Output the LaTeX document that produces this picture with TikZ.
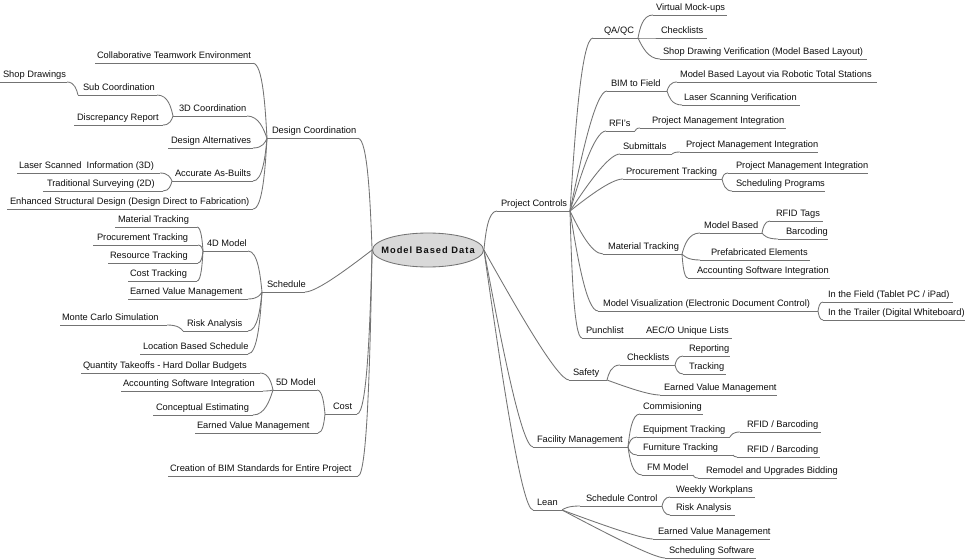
\documentclass[tikz,border=0pt]{standalone}
\usepackage{fontspec}
\setmainfont{Liberation Sans}
\usetikzlibrary{shapes.geometric,calc}
\definecolor{lnc}{RGB}{115,115,115}
\definecolor{txc}{RGB}{15,15,15}
\definecolor{rootfill}{RGB}{217,217,217}
\tikzset{
  mmtopic/.style={anchor=south west, inner sep=0pt, outer sep=0pt, text height=7pt, text depth=4.3pt, font=\fontsize{9.3}{11}\selectfont, text=txc},
  mmline/.style={draw=lnc, line width=0.85pt},
  mmroot/.style={ellipse, draw=lnc, line width=0.85pt, fill=rootfill, minimum width=111pt, minimum height=34pt, inner sep=0pt, text=txc, font=\fontsize{9.3}{11}\selectfont\bfseries\addfontfeatures{LetterSpace=11}}
}
\newcommand\mmn[6]{%
  \node[mmtopic] (#1) at (#2,#4) {\makebox[\dimexpr #3pt-#2pt\relax][l]{\hspace*{\dimexpr #5pt-#2pt\relax}#6}};
  \draw[mmline] (#1.south west) -- (#1.south east);}
\newcommand\cnx[2]{\draw[mmline] let \p1=(#1), \p2=(#2), \n1={((\x2-\x1)>0) ? min(12,0.7*(\x2-\x1)) : -min(12,0.7*(\x1-\x2))} in (\p1) .. controls ({\x1+0.4*(\x2-\n1-\x1)},{\y1+0.4*(\y2-\y1)}) and ({\x2-\n1},\y2) .. (\p2);}
\begin{document}
\begin{tikzpicture}[x=1pt,y=-1pt]
\fill[white] (0,0) rectangle (967,559);
\useasboundingbox (0,0) rectangle (967,559);
% ---------- left side ----------
\mmn{collab}{95}{253}{63.3}{97}{Collaborative Teamwork Environment}
\mmn{shopdr}{0}{67}{82}{3}{Shop Drawings}
\mmn{subc}{78}{157}{95}{83}{Sub Coordination}
\mmn{tdc}{173}{247}{116}{179}{3D Coordination}
\mmn{discr}{74}{163}{125}{77}{Discrepancy Report}
\mmn{desalt}{168}{253}{148}{171}{Design Alternatives}
\mmn{laserthree}{17}{160}{173}{19}{Laser Scanned~ Information (3D)}
\mmn{tradtwo}{43}{163}{191}{47}{Traditional Surveying (2D)}
\mmn{aab}{172}{253}{181}{175}{Accurate As-Builts}
\mmn{enh}{7}{253}{209}{10}{Enhanced Structural Design (Design Direct to Fabrication)}
\mmn{dc}{267}{358}{138.3}{272}{Design Coordination}
\mmn{matone}{115}{197}{227}{118}{Material Tracking}
\mmn{procone}{93}{198}{245}{97}{Procurement Tracking}
\mmn{res}{108}{198}{263}{110}{Resource Tracking}
\mmn{costt}{128}{197}{281}{130}{Cost Tracking}
\mmn{fourd}{203}{248}{251}{207}{4D Model}
\mmn{evmone}{128}{248}{299}{130}{Earned Value Management}
\mmn{monte}{60}{167}{325}{62}{Monte Carlo Simulation}
\mmn{riskone}{183}{248}{331}{187}{Risk Analysis}
\mmn{loc}{140}{248}{354}{143}{Location Based Schedule}
\mmn{sched}{262}{305}{292}{267}{Schedule}
\mmn{qto}{81}{260}{373}{83}{Quantity Takeoffs - Hard Dollar Budgets}
\mmn{asione}{121}{263}{391}{123}{Accounting Software Integration}
\mmn{conc}{153}{253}{415}{156}{Conceptual Estimating}
\mmn{fived}{273}{317}{390}{276}{5D Model}
\mmn{evmtwo}{195}{318}{433}{197}{Earned Value Management}
\mmn{cost}{325}{357}{414}{333}{Cost}
\mmn{bim}{168}{358}{476}{170}{Creation of BIM Standards for Entire Project}
% ---------- right side ----------
\mmn{pc}{497}{570}{211}{501}{Project Controls}
\mmn{qaqc}{593}{638}{38}{604}{QA/QC}
\mmn{vmock}{653}{727}{15}{656}{Virtual Mock-ups}
\mmn{checkone}{658}{707}{38}{661}{Checklists}
\mmn{shopver}{660}{867}{59}{663}{Shop Drawing Verification (Model Based Layout)}
\mmn{btf}{607}{667}{91}{611}{BIM to Field}
\mmn{mbl}{677}{877}{82}{680}{Model Based Layout via Robotic Total Stations}
\mmn{laserver}{682}{800}{105}{684}{Laser Scanning Verification}
\mmn{rfi}{606}{635}{131}{609}{RFI's}
\mmn{pmione}{640}{786}{128}{652}{Project Management Integration}
\mmn{subm}{620}{672}{154}{623}{Submittals}
\mmn{pmitwo}{680}{818}{152}{686}{Project Management Integration}
\mmn{proctwo}{623}{722}{179}{626}{Procurement Tracking}
\mmn{pmithree}{728}{868}{173}{736}{Project Management Integration}
\mmn{schprog}{732}{825}{191}{736}{Scheduling Programs}
\mmn{mattwo}{603}{682}{254}{608}{Material Tracking}
\mmn{mbased}{700}{762}{233}{704}{Model Based}
\mmn{rfidtags}{770}{823}{221}{776}{RFID Tags}
\mmn{barc}{778}{828}{239}{786}{Barcoding}
\mmn{prefab}{700}{810}{260}{711}{Prefabricated Elements}
\mmn{asitwo}{688}{830}{278}{697}{Accounting Software Integration}
\mmn{mvis}{598}{818}{311}{603}{Model Visualization (Electronic Document Control)}
\mmn{infield}{823}{953}{302}{828}{In the Field (Tablet PC / iPad)}
\mmn{intrailer}{823}{965}{320}{828}{In the Trailer (Digital Whiteboard)}
\mmn{punch}{582}{628}{338}{586}{Punchlist}
\mmn{aec}{628}{732}{338}{646}{AEC/O Unique Lists}
\mmn{safety}{569}{607}{380}{573}{Safety}
\mmn{checktwo}{620}{675}{365}{627}{Checklists}
\mmn{report}{683}{730}{356}{689}{Reporting}
\mmn{track}{683}{726}{374}{689}{Tracking}
\mmn{evmthree}{660}{777}{395}{664}{Earned Value Management}
\mmn{fm}{533}{628}{447}{537}{Facility Management}
\mmn{commis}{640}{703}{414}{643}{Commisioning}
\mmn{equip}{637}{730}{437}{643}{Equipment Tracking}
\mmn{rfidone}{740}{821}{432}{747}{RFID / Barcoding}
\mmn{furn}{637}{733}{455}{643}{Furniture Tracking}
\mmn{rfidtwo}{737}{820}{457}{747}{RFID / Barcoding}
\mmn{fmm}{642}{693}{475}{647}{FM Model}
\mmn{remodel}{698}{837}{478}{706}{Remodel and Upgrades Bidding}
\mmn{lean}{533}{562}{510}{537}{Lean}
\mmn{schctrl}{580}{662}{506}{586}{Schedule Control}
\mmn{weekly}{670}{755}{497}{676}{Weekly Workplans}
\mmn{risktwo}{670}{735}{515}{676}{Risk Analysis}
\mmn{evmfour}{653}{770}{539}{658}{Earned Value Management}
\mmn{schsoft}{665}{756}{558}{669}{Scheduling Software}
% ---------- root ----------
\node[mmroot] (root) at (428,250) {\makebox[0pt]{Model Based Data}};
% ---------- connectors left ----------
\foreach \c in {dc,sched,cost,bim} {\cnx{root.west}{\c.south east}}
\foreach \c in {collab,tdc,desalt,aab,enh} {\cnx{dc.south west}{\c.south east}}
\foreach \c in {subc,discr} {\cnx{tdc.south west}{\c.south east}}
\cnx{subc.south west}{shopdr.south east}
\foreach \c in {laserthree,tradtwo} {\cnx{aab.south west}{\c.south east}}
\foreach \c in {fourd,evmone,riskone,loc} {\cnx{sched.south west}{\c.south east}}
\foreach \c in {matone,procone,res,costt} {\cnx{fourd.south west}{\c.south east}}
\cnx{riskone.south west}{monte.south east}
\foreach \c in {fived,evmtwo} {\cnx{cost.south west}{\c.south east}}
\foreach \c in {qto,asione,conc} {\cnx{fived.south west}{\c.south east}}
% ---------- connectors right ----------
\foreach \c in {pc,safety,fm,lean} {\cnx{root.east}{\c.south west}}
\foreach \c in {qaqc,btf,rfi,subm,proctwo,mattwo,mvis,punch} {\cnx{pc.south east}{\c.south west}}
\foreach \c in {vmock,checkone,shopver} {\cnx{qaqc.south east}{\c.south west}}
\foreach \c in {mbl,laserver} {\cnx{btf.south east}{\c.south west}}
\cnx{rfi.south east}{pmione.south west}
\cnx{subm.south east}{pmitwo.south west}
\foreach \c in {pmithree,schprog} {\cnx{proctwo.south east}{\c.south west}}
\foreach \c in {mbased,prefab,asitwo} {\cnx{mattwo.south east}{\c.south west}}
\foreach \c in {rfidtags,barc} {\cnx{mbased.south east}{\c.south west}}
\foreach \c in {infield,intrailer} {\cnx{mvis.south east}{\c.south west}}
\cnx{punch.south east}{aec.south west}
\foreach \c in {checktwo,evmthree} {\cnx{safety.south east}{\c.south west}}
\foreach \c in {report,track} {\cnx{checktwo.south east}{\c.south west}}
\foreach \c in {commis,equip,furn,fmm} {\cnx{fm.south east}{\c.south west}}
\cnx{equip.south east}{rfidone.south west}
\cnx{furn.south east}{rfidtwo.south west}
\cnx{fmm.south east}{remodel.south west}
\foreach \c in {schctrl,evmfour,schsoft} {\cnx{lean.south east}{\c.south west}}
\foreach \c in {weekly,risktwo} {\cnx{schctrl.south east}{\c.south west}}
\end{tikzpicture}
\end{document}
